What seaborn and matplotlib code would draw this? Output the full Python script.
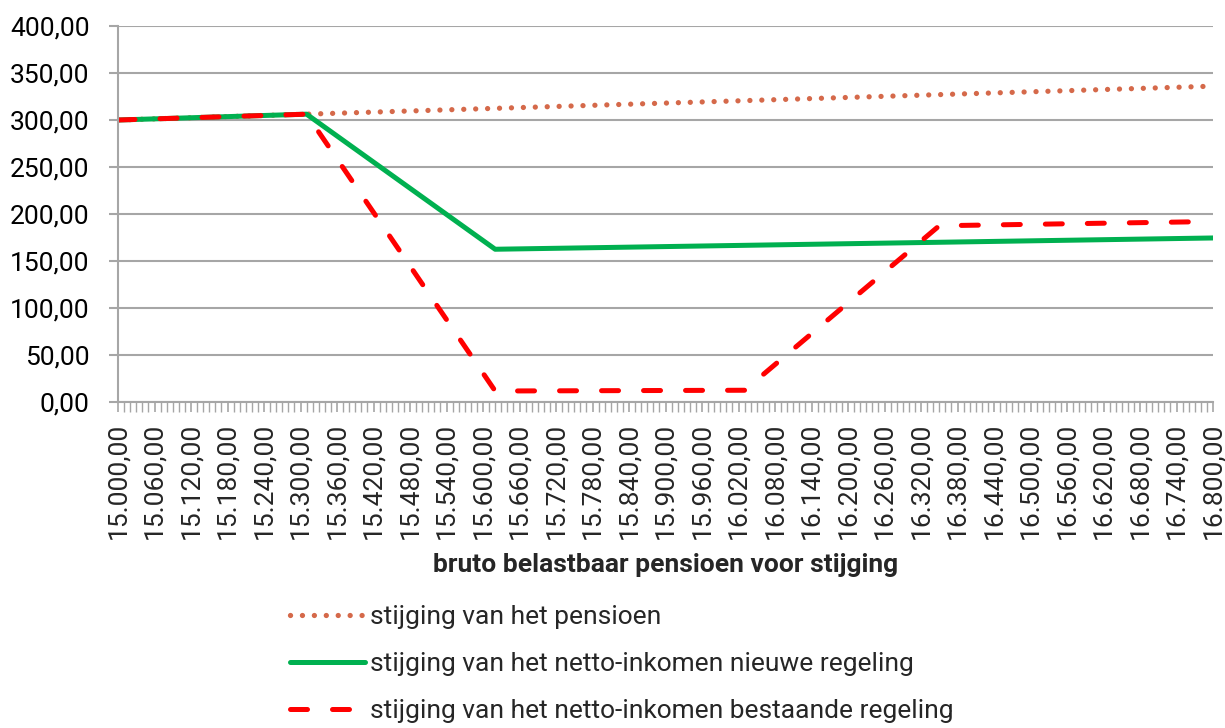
import numpy as np
import pandas as pd
import matplotlib
matplotlib.use("Agg")
import matplotlib.pyplot as plt
import seaborn as sns
from matplotlib.ticker import FuncFormatter, MultipleLocator

# breakpoints (bruto pensioen -> stijging)
x_pensioen = [15000, 16800]
y_pensioen = [300.0, 336.0]

x_nieuw = [15000, 15310, 15620, 16800]
y_nieuw = [300.0, 306.2, 162.5, 174.5]

x_bestaand = [15000, 15310, 15620, 16030, 16350, 16800]
y_bestaand = [300.0, 306.2, 11.7, 12.5, 187.5, 192.0]

labels = ["stijging van het pensioen",
          "stijging van het netto-inkomen nieuwe regeling",
          "stijging van het netto-inkomen bestaande regeling"]

sns.set_style("white")
plt.rcParams['font.family'] = ['Roboto', 'DejaVu Sans']

def nl(v, pos=None):
    s = f"{v:,.2f}"
    return s.replace(",", "X").replace(".", ",").replace("X", ".")

fig = plt.figure(figsize=(12.25, 7.28), dpi=100)
ax = fig.add_axes([118/1225, 1-402/728, (1213-118)/1225, (402-26)/728])

df1 = pd.DataFrame({"x": x_pensioen, "y": y_pensioen})
df2 = pd.DataFrame({"x": x_nieuw, "y": y_nieuw})
df3 = pd.DataFrame({"x": x_bestaand, "y": y_bestaand})

sns.lineplot(data=df1, x="x", y="y", ax=ax, color="#D5694A", lw=3.8,
             label=labels[0])
ax.lines[-1].set_linestyle((0, (0.01, 2.25)))
ax.lines[-1].set_dash_capstyle("round")
sns.lineplot(data=df2, x="x", y="y", ax=ax, color="#00B050", lw=3.6,
             label=labels[1])
sns.lineplot(data=df3, x="x", y="y", ax=ax, color="#FF0000", lw=3.6,
             label=labels[2])
ax.lines[-1].set_linestyle((0, (3.4, 5.0)))
ax.lines[-1].set_dash_capstyle("round")

ax.set_xlim(15000, 16800)
ax.set_ylim(0, 400)
ax.yaxis.set_major_locator(MultipleLocator(50))
ax.yaxis.set_major_formatter(FuncFormatter(nl))
ax.xaxis.set_major_locator(MultipleLocator(60))
ax.xaxis.set_minor_locator(MultipleLocator(10))
ax.xaxis.set_major_formatter(FuncFormatter(nl))

ax.grid(axis="y", color="#a6a6a6", lw=1.5)
ax.set_axisbelow(True)
for s in ["top", "right"]:
    ax.spines[s].set_visible(False)
for s in ["left", "bottom"]:
    ax.spines[s].set_color("#a6a6a6")
    ax.spines[s].set_linewidth(1.5)

ax.tick_params(axis="y", which="major", direction="out", length=6.5, width=1.5,
               color="#a6a6a6", labelsize=19, labelcolor="black", left=True,
               pad=14)
ax.tick_params(axis="x", which="major", direction="out", length=7, width=1.2,
               color="#a6a6a6", labelsize=19, labelrotation=90, bottom=True,
               pad=8)
ax.tick_params(axis="x", which="minor", direction="out", length=7, width=1.0,
               color="#a6a6a6", bottom=True)

ax.set_xlabel("bruto belastbaar pensioen voor stijging", fontsize=19,
              fontweight="bold", labelpad=10)
ax.set_ylabel("")

ax.get_legend().remove()
h, l = ax.get_legend_handles_labels()
fig.legend(h, l, loc="upper left", bbox_to_anchor=(290/1225, 1-605/728),
           frameon=False, fontsize=19, handlelength=2.85, handletextpad=0.2,
           labelspacing=0.88, borderaxespad=0, borderpad=0)

fig.savefig("out.png", dpi=100)
